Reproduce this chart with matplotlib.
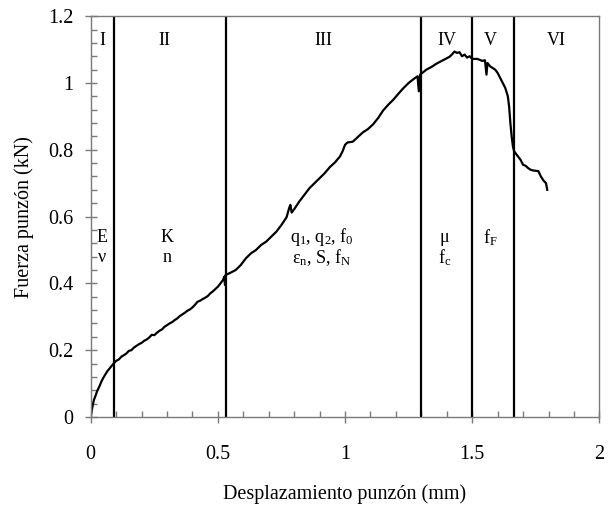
import matplotlib
matplotlib.use("Agg")
import matplotlib.pyplot as plt
from matplotlib.ticker import MultipleLocator

plt.rcParams["font.family"] = ["Liberation Serif", "DejaVu Serif"]
plt.rcParams["mathtext.fontset"] = "custom"
plt.rcParams["mathtext.rm"] = "Liberation Serif"
plt.rcParams["mathtext.it"] = "Liberation Serif"
plt.rcParams["mathtext.default"] = "regular"

# punch displacement (mm) / punch force (kN)
disp = [0, 0.004, 0.008, 0.012, 0.018, 0.024, 0.03, 0.036, 0.043, 0.05,
        0.058, 0.066, 0.074, 0.082, 0.09,
        0.10, 0.11, 0.12, 0.13, 0.14, 0.15, 0.16, 0.17, 0.18, 0.19,
        0.20, 0.21, 0.22, 0.23, 0.24, 0.25, 0.26, 0.27, 0.28, 0.29,
        0.30, 0.31, 0.32, 0.33, 0.34, 0.35, 0.36, 0.37, 0.38, 0.39,
        0.40, 0.41, 0.42, 0.43, 0.44, 0.45, 0.46, 0.47, 0.48, 0.49,
        0.50, 0.51, 0.52, 0.525, 0.528, 0.53,
        0.55, 0.57, 0.59, 0.61, 0.63, 0.65, 0.67, 0.69, 0.71, 0.73,
        0.75, 0.77, 0.78, 0.785, 0.79, 0.80, 0.82, 0.84, 0.86, 0.88,
        0.90, 0.92, 0.94, 0.96, 0.98, 0.99, 1.00, 1.01, 1.03, 1.05,
        1.07, 1.09, 1.11, 1.13, 1.15, 1.17, 1.19, 1.21, 1.23, 1.25,
        1.27, 1.285, 1.29, 1.295, 1.30,
        1.32, 1.34, 1.36, 1.375, 1.39, 1.41, 1.42, 1.43, 1.44, 1.45,
        1.46, 1.47, 1.48, 1.49, 1.50, 1.52, 1.54, 1.55, 1.556, 1.56,
        1.57, 1.58, 1.59, 1.60, 1.61, 1.62, 1.63, 1.64, 1.645, 1.65,
        1.655, 1.66, 1.665, 1.67, 1.68, 1.69, 1.70, 1.71, 1.72, 1.73,
        1.74, 1.76, 1.77, 1.78, 1.79, 1.795]
force = [0, 0.02, 0.035, 0.05, 0.062, 0.075, 0.085, 0.095, 0.108, 0.118,
         0.128, 0.138, 0.145, 0.153, 0.16,
         0.168, 0.172, 0.18, 0.185, 0.19, 0.198, 0.2, 0.208, 0.213, 0.218,
         0.222, 0.228, 0.232, 0.238, 0.246, 0.245, 0.252, 0.258, 0.262, 0.27,
         0.275, 0.28, 0.284, 0.29, 0.295, 0.302, 0.307, 0.312, 0.318, 0.322,
         0.328, 0.336, 0.345, 0.348, 0.353, 0.357, 0.362, 0.37, 0.376, 0.383,
         0.39, 0.4, 0.41, 0.42, 0.395, 0.425,
         0.432, 0.44, 0.455, 0.475, 0.49, 0.5, 0.515, 0.525, 0.54, 0.555,
         0.575, 0.598, 0.625, 0.635, 0.612, 0.622, 0.645, 0.665, 0.685, 0.7,
         0.715, 0.73, 0.748, 0.762, 0.78, 0.795, 0.815, 0.822, 0.824, 0.838,
         0.852, 0.862, 0.876, 0.895, 0.918, 0.935, 0.95, 0.968, 0.985, 1.0,
         1.012, 1.02, 0.975, 1.025, 1.028,
         1.04, 1.048, 1.058, 1.064, 1.07, 1.078, 1.085, 1.094, 1.09, 1.092,
         1.08, 1.085, 1.076, 1.08, 1.072, 1.072, 1.066, 1.068, 1.025, 1.06,
         1.05, 1.045, 1.04, 1.03, 1.015, 1.0, 0.985, 0.96, 0.93, 0.88,
         0.84, 0.81, 0.795, 0.79, 0.78, 0.77, 0.755, 0.752, 0.745, 0.74,
         0.738, 0.736, 0.72, 0.708, 0.70, 0.68]

# stage boundaries and labels
bounds = [0.09, 0.53, 1.30, 1.50, 1.665]
stages = ["I", "II", "III", "IV", "V", "VI"]
stage_x = [0.045, 0.29, 0.915, 1.40, 1.57, 1.83]
params_top = ["E", "K", "q$_1$, q$_2$, f$_0$", "\u03bc", "f$_F$"]
params_bot = ["\u03bd", "n", "\u03b5$_n$, S, f$_N$", "f$_c$", ""]
param_x = [0.045, 0.30, 0.91, 1.39, 1.572]

fig = plt.figure(figsize=(6.11, 5.05), dpi=100)
ax = fig.add_axes([0.1485, 0.1743, 0.8325, 0.7937])

ax.plot(disp, force, color="black", lw=1.6)
for b in bounds:
    ax.axvline(b, color="black", lw=1.6)

for sx, s in zip(stage_x, stages):
    ax.text(sx, 1.128, s, ha="center", va="center", fontsize=13)
for px, t, u in zip(param_x, params_top, params_bot):
    ax.text(px, 0.538, t, ha="center", va="center", fontsize=13)
    if u:
        ax.text(px, 0.478, u, ha="center", va="center", fontsize=13)

ax.set_xlim(0, 2)
ax.set_ylim(0, 1.2)
ax.xaxis.set_minor_locator(MultipleLocator(0.1))
ax.yaxis.set_minor_locator(MultipleLocator(0.04))
ax.set_xticks([0, 0.5, 1, 1.5, 2], ["0", "0.5", "1", "1.5", "2"])
ax.set_yticks([0, 0.2, 0.4, 0.6, 0.8, 1.0, 1.2],
              ["0", "0.2", "0.4", "0.6", "0.8", "1", "1.2"])

gray = "#7a7a7a"
for sp in ax.spines.values():
    sp.set_color(gray)
    sp.set_linewidth(1.0)
ax.tick_params(which="major", direction="inout", length=9, width=1,
               color=gray, labelsize=14.5, labelcolor="black")
ax.tick_params(axis="x", which="major", pad=16)
ax.tick_params(axis="y", which="major", pad=8)
ax.tick_params(which="minor", direction="in", length=4, width=1, color=gray)

ax.set_xlabel("Desplazamiento punzón (mm)", fontsize=14.5)
ax.set_ylabel("Fuerza punzón (kN)", fontsize=14.5)
ax.xaxis.set_label_coords(0.5, -0.167)
ax.yaxis.set_label_coords(-0.112, 0.5)

fig.savefig("out.png", dpi=100)
